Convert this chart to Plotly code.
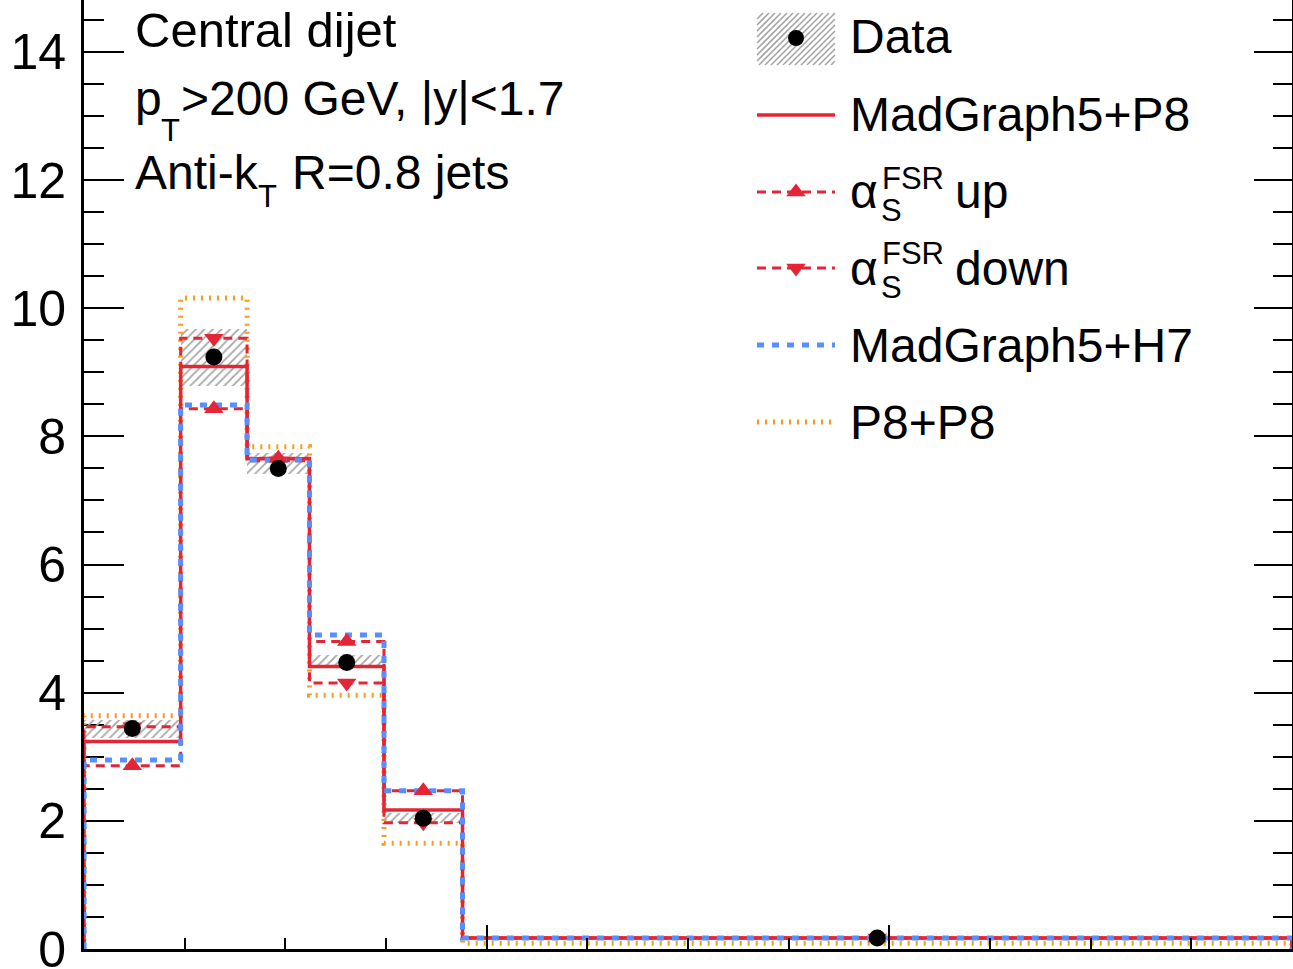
import plotly.graph_objects as go

# ---------------- data ----------------
bin_edges = [0.0, 0.048, 0.081, 0.112, 0.149, 0.188, 0.6]
data_vals = [3.44, 9.24, 7.50, 4.47, 2.04, 0.17]
data_lo = [3.29, 8.79, 7.41, 4.43, 1.97, 0.15]
data_hi = [3.57, 9.67, 7.74, 4.59, 2.12, 0.19]
mg5_p8 = [3.24, 9.09, 7.65, 4.41, 2.17, 0.17]
fsr_up = [2.86, 8.43, 7.66, 4.80, 2.47, 0.17]
fsr_down = [3.47, 9.53, 7.62, 4.15, 1.97, 0.17]
mg5_h7 = [2.95, 8.49, 7.63, 4.90, 2.47, 0.17]
p8_p8 = [3.64, 10.16, 7.84, 3.96, 1.65, 0.09]
y_tick_vals = [0, 2, 4, 6, 8, 10, 12, 14]
y_tick_text = ["0", "2", "4", "6", "8", "10", "12", "14"]

RED = "#e42536"
BLUE = "#5790fc"
ORANGE = "#f89c20"
HATCH = "#a6a6a6"
FONT = "Liberation Sans, Arial, Helvetica, sans-serif"

W, H = 1293, 969
ML, MR, MT, MB = 84, 1, 0, 20
PW, PH = W - ML - MR, H - MT - MB
Y_MAX = 14.81

centers = [(bin_edges[i] + bin_edges[i + 1]) / 2 for i in range(len(bin_edges) - 1)]
widths = [bin_edges[i + 1] - bin_edges[i] for i in range(len(bin_edges) - 1)]


def step(values):
    xs, ys = [bin_edges[0]], [0]
    for i, v in enumerate(values):
        xs += [bin_edges[i], bin_edges[i + 1]]
        ys += [v, v]
    xs.append(bin_edges[-1])
    ys.append(0)
    return xs, ys


fig = go.Figure()

# data uncertainty band (hatched)
fig.add_trace(go.Bar(
    x=centers, y=[h - l for h, l in zip(data_hi, data_lo)], base=data_lo, width=widths,
    marker=dict(color="white", line=dict(width=0),
                pattern=dict(shape="/", fgcolor=HATCH, bgcolor="rgba(255,255,255,0)",
                             size=6, solidity=0.3, fillmode="replace")),
    showlegend=False, hoverinfo="skip"))

line_specs = [
    (p8_p8, dict(color=ORANGE, width=5, dash="2px,6px")),
    (mg5_p8, dict(color=RED, width=3.5)),
    (fsr_up, dict(color=RED, width=3, dash="9px,6px")),
    (fsr_down, dict(color=RED, width=3, dash="9px,6px")),
    (mg5_h7, dict(color=BLUE, width=5, dash="7px,8px")),
]
for vals, ln in line_specs:
    xs, ys = step(vals)
    fig.add_trace(go.Scatter(x=xs, y=ys, mode="lines", line=ln,
                             showlegend=False, hoverinfo="skip"))

fig.add_trace(go.Scatter(x=centers, y=fsr_up, mode="markers",
                         marker=dict(symbol="triangle-up", size=17, color=RED),
                         showlegend=False, hoverinfo="skip"))
fig.add_trace(go.Scatter(x=centers, y=fsr_down, mode="markers",
                         marker=dict(symbol="triangle-down", size=17, color=RED),
                         showlegend=False, hoverinfo="skip"))
fig.add_trace(go.Scatter(x=centers, y=data_vals, mode="markers",
                         marker=dict(symbol="circle", size=17, color="black"),
                         showlegend=False, hoverinfo="skip"))
# carrier for the right-hand mirrored axis
fig.add_trace(go.Scatter(x=[bin_edges[0]], y=[0], yaxis="y2", mode="lines",
                         showlegend=False, hoverinfo="skip"))


# ---------------- manual legend & labels (layout, paper coords) ----------------
def px(xp):
    return (xp - ML) / PW


def py(yp):
    return (H - MB - yp) / PH


shapes = []
annotations = []

# Data key: hatched box with dot
bx0, bx1, by0, by1 = 757, 835, 13, 65
path = ""
c = bx0 + by0
while c <= bx1 + by1:
    xa = max(bx0, c - by1)
    xb = min(bx1, c - by0)
    if xb > xa:
        path += "M%.5f,%.5f L%.5f,%.5f " % (px(xa), py(c - xa), px(xb), py(c - xb))
    c += 6
shapes.append(dict(type="path", path=path, xref="paper", yref="paper",
                   line=dict(color=HATCH, width=1.6), layer="above"))
r = 8
shapes.append(dict(type="circle", xref="paper", yref="paper",
                   x0=px(796 - r), x1=px(796 + r), y0=py(38 + r), y1=py(38 - r),
                   fillcolor="black", line=dict(width=0), layer="above"))

key_lines = [
    (115, dict(color=RED, width=3.5)),
    (192, dict(color=RED, width=3, dash="9px,6px")),
    (268, dict(color=RED, width=3, dash="9px,6px")),
    (345, dict(color=BLUE, width=5, dash="7px,8px")),
    (422, dict(color=ORANGE, width=5, dash="2px,6px")),
]
for yy, ln in key_lines:
    shapes.append(dict(type="line", xref="paper", yref="paper",
                       x0=px(757), x1=px(835), y0=py(yy), y1=py(yy), line=ln, layer="above"))


def tri(cx, cy, up=True, s=17):
    rr = s / 2
    rt = rr * 2 / 3 ** 0.5
    rs = rr / 2
    if up:
        pts = [(cx - rt, cy + rs), (cx + rt, cy + rs), (cx, cy - rr)]
    else:
        pts = [(cx - rt, cy - rs), (cx + rt, cy - rs), (cx, cy + rr)]
    return "M" + " L".join("%.5f,%.5f" % (px(a), py(b)) for a, b in pts) + " Z"


shapes.append(dict(type="path", path=tri(796, 192, True), xref="paper", yref="paper",
                   fillcolor=RED, line=dict(width=0), layer="above"))
shapes.append(dict(type="path", path=tri(796, 268, False), xref="paper", yref="paper",
                   fillcolor=RED, line=dict(width=0), layer="above"))


def text(t, x, y, size=48, xanchor="left"):
    annotations.append(dict(text=t, x=px(x), y=py(y), xref="paper", yref="paper",
                            xanchor=xanchor, yanchor="middle", showarrow=False,
                            font=dict(family=FONT, size=size, color="black")))


text("Data", 848, 37)
text("MadGraph5+P8", 848, 115)
text("MadGraph5+H7", 848, 345)
text("P8+P8", 848, 422)
for yy, word in [(192, "up"), (268, "down")]:
    text("α", 848, yy)
    text("FSR", 880, yy - 14, size=31)
    text("S", 879, yy + 19, size=31)
    text(word, 953, yy)

# header text block (subscripts placed explicitly, ROOT-style)
text("Central dijet", 133, 30, size=49)
text("p", 133, 99)
text("T", 159, 131, size=31)
text("&gt;200 GeV, |y|&lt;1.7", 179, 99)
text("Anti-k", 133, 172)
text("T", 256, 196, size=31)
text("R=0.8 jets", 290, 172)

fig.update_layout(
    width=W, height=H,
    margin=dict(l=ML, r=MR, t=MT, b=MB, pad=0, autoexpand=False),
    paper_bgcolor="white", plot_bgcolor="white",
    barmode="overlay", bargap=0,
    showlegend=False,
    shapes=shapes, annotations=annotations,
    font=dict(family=FONT, color="black"),
    xaxis=dict(range=[bin_edges[0], bin_edges[-1]], showgrid=False, zeroline=False,
               automargin=False,
               showline=True, linecolor="black", linewidth=3,
               ticks="inside", ticklen=24, tickwidth=2, tickcolor="black",
               tick0=0, dtick=0.2, showticklabels=False,
               minor=dict(ticks="inside", dtick=0.05, ticklen=11, tickwidth=2,
                          tickcolor="black", showgrid=False)),
    yaxis=dict(range=[0, Y_MAX], showgrid=False, zeroline=False, automargin=False,
               showline=True, linecolor="black", linewidth=3,
               ticks="inside", ticklen=40, tickwidth=2, tickcolor="black",
               tickmode="array", tickvals=y_tick_vals, ticktext=y_tick_text,
               tickfont=dict(family=FONT, size=50, color="black"),
               ticklabelstandoff=5, ticklabeloverflow="allow", layer="below traces",
               minor=dict(ticks="inside", dtick=0.5, ticklen=20, tickwidth=2,
                          tickcolor="black", showgrid=False)),
    yaxis2=dict(range=[0, Y_MAX], overlaying="y", side="right", anchor="x",
                automargin=False,
                showgrid=False, zeroline=False, showline=True, linecolor="black",
                linewidth=2, ticks="inside", ticklen=38, tickwidth=2, tickcolor="black",
                tickmode="array", tickvals=y_tick_vals, showticklabels=False,
                minor=dict(ticks="inside", dtick=0.5, ticklen=19, tickwidth=2,
                           tickcolor="black", showgrid=False)),
)

fig.write_html(
    "out.html",
    config={"displayModeBar": False},
    post_script="document.body.style.margin='0';document.body.style.overflow='hidden';",
)
